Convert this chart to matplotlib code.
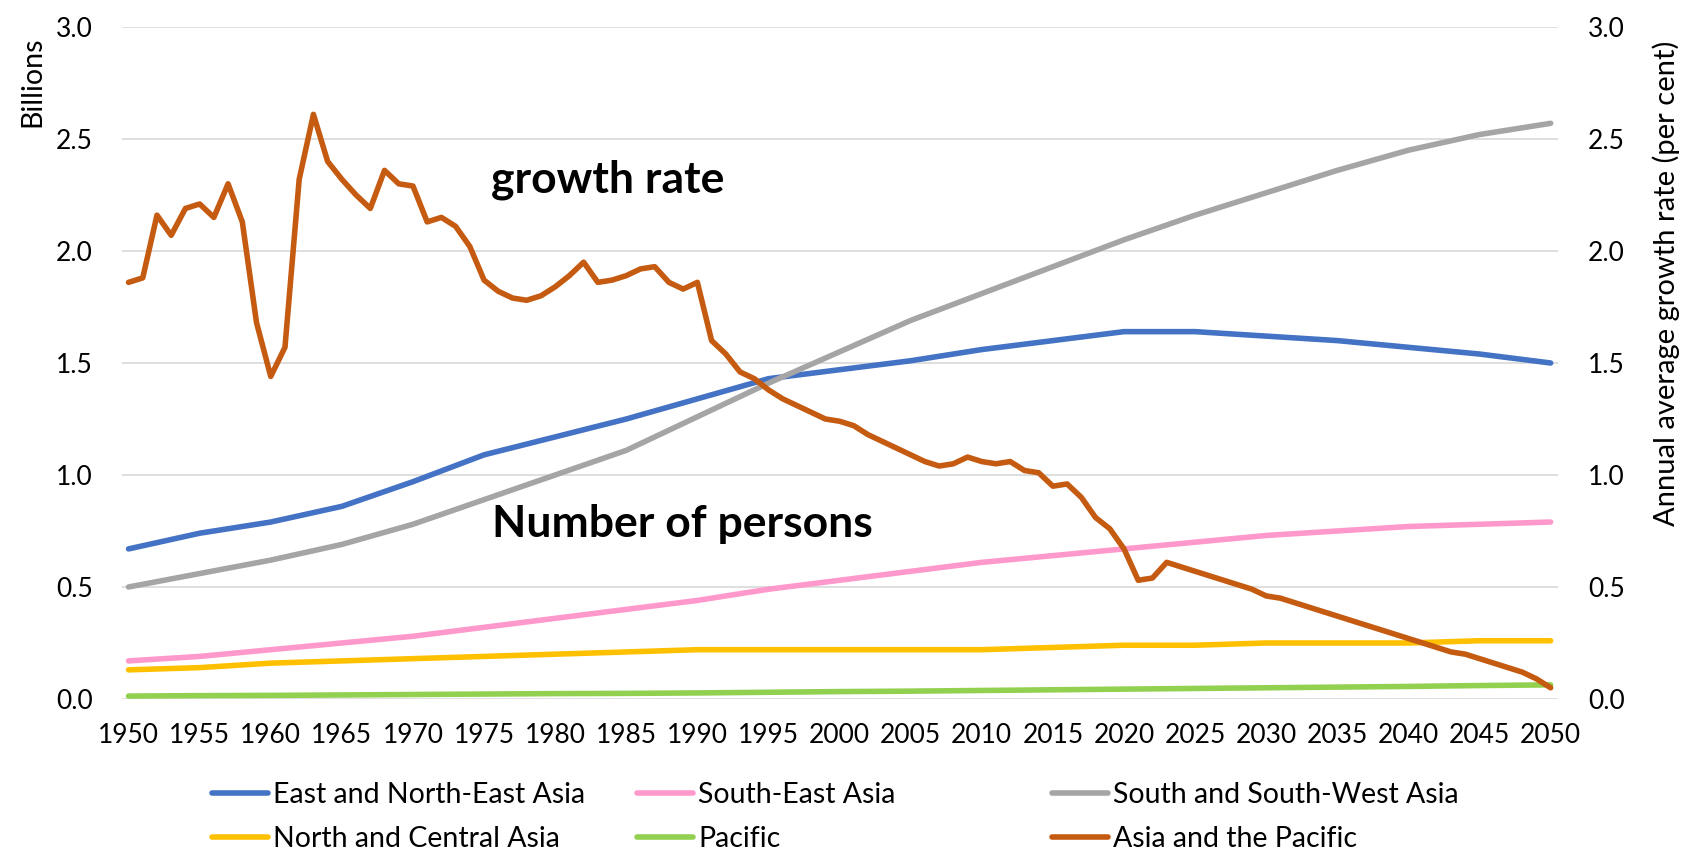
import matplotlib
matplotlib.use("Agg")
import matplotlib.pyplot as plt

plt.rcParams['font.family'] = ['Lato', 'DejaVu Sans']

# populations (billions), read every 5 years
anios = list(range(1950, 2051, 5))
este_noreste = [0.67, 0.74, 0.79, 0.86, 0.97, 1.09, 1.17, 1.25, 1.34, 1.43, 1.47,
                1.51, 1.56, 1.60, 1.64, 1.64, 1.62, 1.60, 1.57, 1.54, 1.50]
sudeste = [0.17, 0.19, 0.22, 0.25, 0.28, 0.32, 0.36, 0.40, 0.44, 0.49, 0.53,
           0.57, 0.61, 0.64, 0.67, 0.70, 0.73, 0.75, 0.77, 0.78, 0.79]
sur_suroeste = [0.50, 0.56, 0.62, 0.69, 0.78, 0.89, 1.00, 1.11, 1.26, 1.41, 1.55,
                1.69, 1.81, 1.93, 2.05, 2.16, 2.26, 2.36, 2.45, 2.52, 2.57]
norte_central = [0.13, 0.14, 0.16, 0.17, 0.18, 0.19, 0.20, 0.21, 0.22, 0.22, 0.22,
                 0.22, 0.22, 0.23, 0.24, 0.24, 0.25, 0.25, 0.25, 0.26, 0.26]
pacifico = [0.013, 0.015, 0.016, 0.018, 0.020, 0.022, 0.024, 0.025, 0.027, 0.030, 0.033,
            0.035, 0.038, 0.041, 0.044, 0.047, 0.050, 0.053, 0.056, 0.060, 0.063]

# annual growth rate of Asia and the Pacific (per cent), one value per year
anios_tasa = list(range(1950, 2051))
tasa = [1.86, 1.88, 2.16, 2.07, 2.19, 2.21, 2.15, 2.30, 2.13, 1.68,
        1.44, 1.57, 2.32, 2.61, 2.40, 2.32, 2.25, 2.19, 2.36, 2.30,
        2.29, 2.13, 2.15, 2.11, 2.02, 1.87, 1.82, 1.79, 1.78, 1.80,
        1.84, 1.89, 1.95, 1.86, 1.87, 1.89, 1.92, 1.93, 1.86, 1.83,
        1.86, 1.60, 1.54, 1.46, 1.43, 1.38, 1.34, 1.31, 1.28, 1.25,
        1.24, 1.22, 1.18, 1.15, 1.12, 1.09, 1.06, 1.04, 1.05, 1.08,
        1.06, 1.05, 1.06, 1.02, 1.01, 0.95, 0.96, 0.90, 0.81, 0.76,
        0.67, 0.53, 0.54, 0.61, 0.59, 0.57, 0.55, 0.53, 0.51, 0.49,
        0.46, 0.45, 0.43, 0.41, 0.39, 0.37, 0.35, 0.33, 0.31, 0.29,
        0.27, 0.25, 0.23, 0.21, 0.20, 0.18, 0.16, 0.14, 0.12, 0.09,
        0.05]

series = [
    ('East and North-East Asia', este_noreste, '#4472C4'),
    ('South-East Asia', sudeste, '#FF99CC'),
    ('South and South-West Asia', sur_suroeste, '#A5A5A5'),
    ('North and Central Asia', norte_central, '#FFC000'),
    ('Pacific', pacifico, '#92D050'),
]
color_tasa = '#C55A11'
ticks_y = [0.0, 0.5, 1.0, 1.5, 2.0, 2.5, 3.0]

fig = plt.figure(figsize=(16.85, 8.52), dpi=100)
ax = fig.add_axes([0.0724, 0.1796, 0.852, 0.7887])
ax2 = ax.twinx()

lineas = []
for nombre, valores, color in series:
    l, = ax.plot(anios, valores, color=color, linewidth=4, label=nombre,
                 solid_capstyle='round')
    lineas.append(l)
lt, = ax2.plot(anios_tasa, tasa, color=color_tasa, linewidth=4,
               label='Asia and the Pacific', solid_capstyle='round')
lineas.append(lt)

for a in (ax, ax2):
    a.set_xlim(1949.54, 2050.49)
    a.set_ylim(0, 3.0)
    a.set_yticks(ticks_y)
    a.set_yticklabels([f'{v:.1f}' for v in ticks_y])
    for s in a.spines.values():
        s.set_visible(False)

ax.grid(axis='y', color='#D9D9D9', linewidth=1.2)
ax.set_axisbelow(True)
ax.set_xticks(anios)
ax.tick_params(axis='x', length=0, labelsize=19, pad=17)
ax.tick_params(axis='y', length=0, labelsize=19, pad=21)
ax2.tick_params(axis='y', length=0, labelsize=19, pad=22)

fig.text(0.019, 0.957, 'Billions', rotation=90, ha='center', va='top', fontsize=20.5)
fig.text(0.989, 0.667, 'Annual average growth rate (per cent)', rotation=90,
         ha='center', va='center', fontsize=21)

fig.text(0.2914, 0.7735, 'growth rate', fontsize=32, fontweight='bold',
         ha='left', va='baseline')
fig.text(0.292, 0.3697, 'Number of persons', fontsize=32, fontweight='bold',
         ha='left', va='baseline')

# legend in three columns with fixed positions
columnas = [(lineas[0], lineas[3]), (lineas[1], lineas[4]), (lineas[2], lineas[5])]
x_col = [212, 637, 1052]
for i, (h1, h2) in enumerate(columnas):
    leg = fig.legend(handles=[h1, h2], loc='center left',
                     bbox_to_anchor=(x_col[i] / 1685, 0.0411),
                     frameon=False, fontsize=20.5, handlelength=1.95,
                     handletextpad=0.2, labelspacing=0.62, borderpad=0,
                     borderaxespad=0)

fig.savefig('out.png', dpi=100)
